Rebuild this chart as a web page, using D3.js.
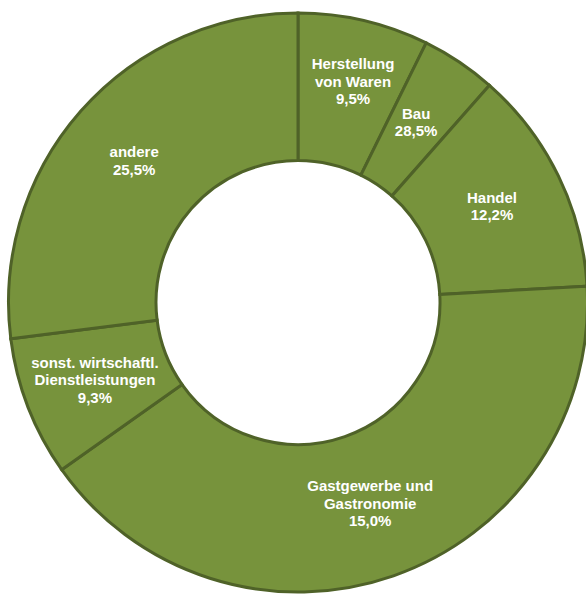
<!DOCTYPE html>
<html>
<head>
<meta charset="utf-8">
<script src="https://cdn.jsdelivr.net/npm/d3@7"></script>
<style>
  html, body { margin: 0; padding: 0; background: #fff; }
  #graf { width: 586px; height: 594px; overflow: hidden; }
  .etiqueta { font-family: "Liberation Sans", Arial, sans-serif; font-weight: bold; fill: #fff; }
</style>
</head>
<body>
<div id="graf"></div>
<script>
// I. Datos
// categorias (cada linea de la etiqueta por separado)
categorias = [
  ['Herstellung', 'von Waren'],
  ['Bau'],
  ['Handel'],
  ['Gastgewerbe und', 'Gastronomie'],
  ['sonst. wirtschaftl.', 'Dienstleistungen'],
  ['andere']
]
// tamaño de cada rebanada (en %)
rebanadas = [7.3, 4.2, 12.6, 41.1, 7.8, 27.0]
// porcentajes que se muestran en las etiquetas
etiquetas = ['9,5%', '28,5%', '12,2%', '15,0%', '9,3%', '25,5%']

// ajuste manual de algunas etiquetas respecto al centroide (px)
ajuste = [[6, -11], [-2, -1], [0, -2], [1, -3], [-2, -1], [-2, 1]]

// II. Configuración
ancho_total = 586
alto_total = 594
centro = { x: 298, y: 302.5 }
radio_ext = 289.5
radio_int = 142
tam_letra = 15
interlinea = 17.5

svg = d3.select('#graf').append('svg')
        .attr('width', ancho_total)
        .attr('height', alto_total)

g = svg.append('g')
       .attr('transform', `translate(${centro.x}, ${centro.y})`)

pie = d3.pie().sort(null).value(d => d)
arco = d3.arc().innerRadius(radio_int).outerRadius(radio_ext)

datos = pie(rebanadas)

// III. Dibujo
g.selectAll('path')
  .data(datos)
  .enter()
  .append('path')
    .attr('d', arco)
    .attr('fill', '#77933c')
    .attr('stroke', '#4f6228')
    .attr('stroke-width', 3)
    .attr('stroke-linejoin', 'miter')

etiq = g.selectAll('text.etiqueta')
  .data(datos)
  .enter()
  .append('text')
    .attr('class', 'etiqueta')
    .attr('text-anchor', 'middle')
    .style('font-size', tam_letra + 'px')

etiq.each(function(d, i) {
  lineas = categorias[i].concat([etiquetas[i]])
  c = arco.centroid(d)
  cx = c[0] + ajuste[i][0]
  cy = c[1] + ajuste[i][1]
  y0 = cy - (lineas.length - 1) * interlinea / 2 + tam_letra * 0.36
  t = d3.select(this)
  lineas.forEach((l, j) => {
    t.append('tspan')
      .attr('x', cx)
      .attr('y', y0 + j * interlinea)
      .text(l)
  })
})
</script>
</body>
</html>
